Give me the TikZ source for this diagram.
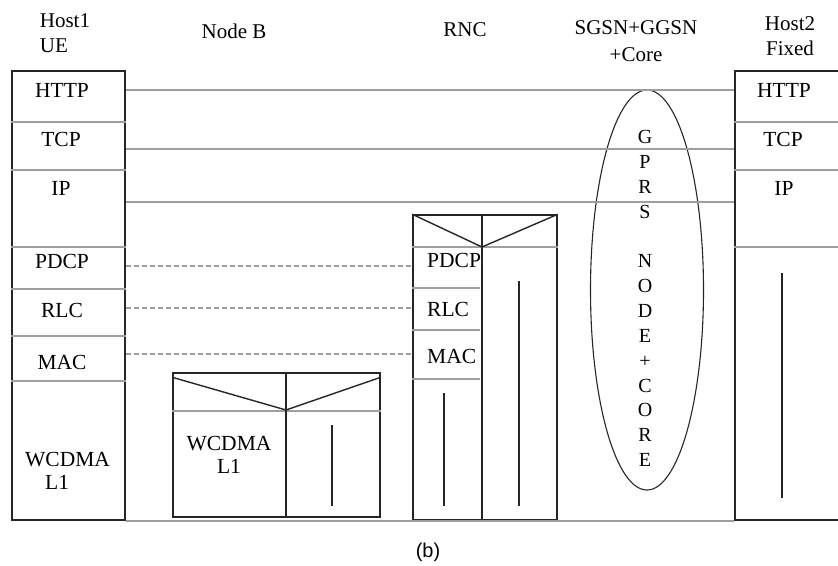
\documentclass[tikz,border=0pt]{standalone}
\usepackage{fontspec}
\setmainfont{Liberation Serif}
\newfontfamily\capfont{Liberation Sans}
\usetikzlibrary{shapes.geometric, positioning}

\begin{document}
\begin{tikzpicture}[
    x=1pt, y=-1pt,
    stack/.style={
        draw=black!85, line width=1.4pt, inner sep=0pt
    },
    layer/.style={draw=black!38, line width=1.9pt},
    peer/.style={draw=black!38, line width=1.9pt},
    radio/.style={draw=black!38, line width=1.4pt, dash pattern=on 5pt off 3pt},
    bar/.style={draw=black!85, line width=1.4pt},
    lbl/.style={font=\fontsize{21.5}{23}\selectfont, inner sep=0pt, align=center},
    ttl/.style={font=\fontsize{21}{25}\selectfont, inner sep=0pt, align=center}
]
\clip (0,0) rectangle (838,565);

% titles
\node[ttl, align=left] (t1) at (65,33) {Host1\\UE};
\node[ttl] (t2) at (234,31) {Node B};
\node[ttl] (t3) at (465,30) {RNC};
\node[ttl, font=\fontsize{21}{27}\selectfont] (t4) at (636,41) {SGSN+GGSN\\+Core};
\node[ttl] (t5) at (790,36) {Host2\\Fixed};

% stacks
\node[stack, minimum width=113pt, minimum height=449pt] (ue) at (68.5,295.5) {};
\node[stack, minimum width=207pt, minimum height=144pt] (nodeb) at (276.5,445) {};
\node[stack, minimum width=144pt, minimum height=305pt] (rnc) at (485,367.5) {};
\node[stack, minimum width=120pt, minimum height=449pt] (h2) at (795,295.5) {};
\node[draw=black!85, line width=1.1pt, ellipse, minimum width=113pt, minimum height=400pt, inner sep=0pt] (core) at (647,290) {};

% host 1 layers
\foreach \y in {122,170,247,289,336,381}
    \draw[layer] (ue.west |- 0,\y) -- (ue.east |- 0,\y);
\node[lbl] (uehttp) at (62,90) {HTTP};
\node[lbl] (uetcp) at (61,139) {TCP};
\node[lbl] (ueip) at (61,188) {IP};
\node[lbl] (uepdcp) at (62,261) {PDCP};
\node[lbl] (uerlc) at (62,310) {RLC};
\node[lbl] (uemac) at (62,362) {MAC};
\node[lbl, align=left, anchor=west] (uel1) at (25,471) {WCDMA\\\hspace*{20pt}L1};

% node b
\draw[layer] (nodeb.west |- 0,411) -- (nodeb.east |- 0,411);
\draw[bar] (nodeb.north -| 286,0) -- (nodeb.south -| 286,0);
\draw[bar] ([yshift=-5pt]nodeb.north west) -- (286,410) -- ([yshift=-5pt]nodeb.north east);
\draw[bar] (332,425) -- (332,506);
\node[lbl] (nbl1) at (229,454.5) {WCDMA\\L1};

% rnc
\draw[layer] (rnc.west |- 0,247) -- (rnc.east |- 0,247);
\draw[bar] (rnc.north -| 482,0) -- (rnc.south -| 482,0);
\draw[bar] (rnc.north west) -- (482,247) -- (rnc.north east);
\foreach \y in {288,330,379}
    \draw[layer] (rnc.west |- 0,\y) -- (480,\y);
\node[lbl, anchor=west] (rncpdcp) at (427,260) {PDCP};
\node[lbl, anchor=west] (rncrlc) at (427,309) {RLC};
\node[lbl, anchor=west] (rncmac) at (427,356) {MAC};
\draw[bar] (444,393) -- (444,506);
\draw[bar] (519,281) -- (519,506);

% host 2 layers
\foreach \y in {122,170,247}
    \draw[layer] (h2.west |- 0,\y) -- (838,\y);
\node[lbl] (h2http) at (784,90) {HTTP};
\node[lbl] (h2tcp) at (783,139) {TCP};
\node[lbl] (h2ip) at (784,188) {IP};
\draw[bar] (782,273) -- (782,498);

% core
\node[inner sep=0pt, align=center, font=\fontsize{20}{24.85}\selectfont] (corelbl) at (645,298.5)
    {G\\P\\R\\S\\[24.85pt]N\\O\\D\\E\\+\\C\\O\\R\\E};

% peer links
\draw[peer] (ue.east |- 0,90) -- (h2.west |- 0,90);
\draw[peer] (ue.east |- 0,149) -- (h2.west |- 0,149);
\draw[peer] (ue.east |- 0,202) -- (h2.west |- 0,202);
\foreach \y in {266,308,354}
    \draw[radio] (ue.east |- 0,\y) -- (rnc.west |- 0,\y);
\draw[peer] (ue.south east) -- (h2.south west);

\node[font=\capfont\fontsize{20}{24}\selectfont, inner sep=0pt] (cap) at (428,552) {(b)};
\end{tikzpicture}
\end{document}
